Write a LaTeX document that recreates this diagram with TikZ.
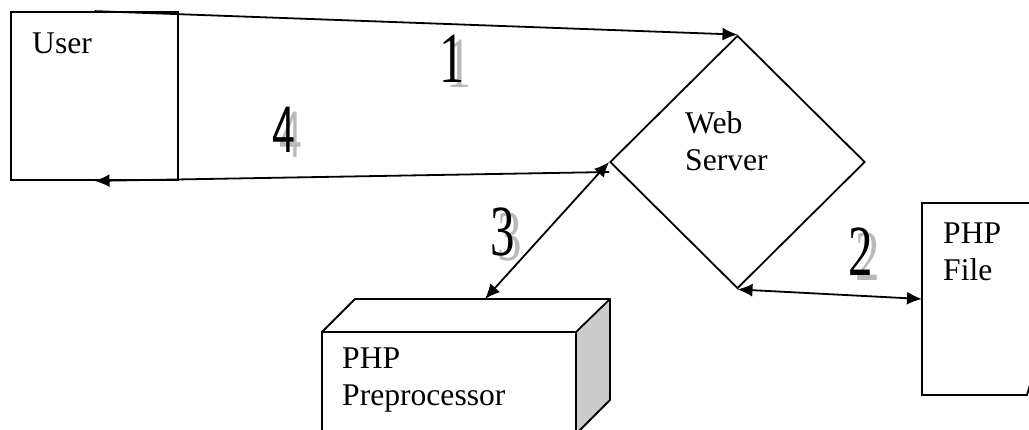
\documentclass[tikz,border=0pt]{standalone}
\usepackage{fontspec}
\setmainfont{Liberation Serif}
\newfontfamily\numsans{Liberation Sans}
\usetikzlibrary{shapes.geometric}
\usetikzlibrary{arrows.meta}
\tikzset{box/.style={draw,line width=1.8pt,inner sep=0pt},
         lbl/.style={font=\fontsize{31.6}{37}\selectfont,align=left,inner sep=0pt,anchor=base west},
         conn/.style={line width=1.8pt,-{Latex[length=15pt,width=13pt]}},
         biconn/.style={conn,{Latex[length=15pt,width=13pt]}-{Latex[length=15pt,width=13pt]}},
         num/.style={font=\fontsize{72}{72}\selectfont,inner sep=0pt},
         numshade/.style={num,text=gray!55}}

\begin{document}
\begin{tikzpicture}[x=1pt,y=-1pt]
            \useasboundingbox (0,0) rectangle (1029,429);
            \node [box,minimum width=167pt,minimum height=168pt] (user) at (94.5,96) {};
            \node [lbl] (usertxt) at (32,53) {User};
            \node [box,diamond,minimum width=255pt,minimum height=253pt] (server) at (737.5,162) {};
            \node [lbl] (servertxt) at (685,170) {Web\\Server};
            \draw [line width=1.8pt] (1040,203) -- (922,203) -- (922,395) -- (1027,395) -- (1032,378);
            \coordinate (phpfile) at (922,299);
            \node [lbl] (filetxt) at (943,280) {PHP\\File};
            \filldraw [fill=gray!40,line width=1.8pt,line join=round] (576,332) -- (610,299) -- (610,400) -- (576,434) -- cycle;
            \draw [line width=1.8pt,line join=round] (322,332) -- (355,299) -- (610,299);
            \draw [line width=1.8pt] (322,440) -- (322,332) -- (576,332);
            \coordinate (pretop) at (485,299);
            \node [lbl] (pretxt) at (342,405) {PHP\\Preprocessor};
            \draw [conn] (user.north) -- (server.north);
            \draw [biconn] (phpfile) -- (server.south);
            \draw [biconn] (pretop) -- (server.west);
            \draw [conn] ([yshift=-10pt]server.west) -- (user.south);
            \node [numshade] (oneb) at (459,64) {\scalebox{0.7}[1]{1}};
            \node [num] (one) at (452,59) {\scalebox{0.7}[1]{1}};
            \node [numshade] (twob) at (868,257) {\scalebox{0.68}[1]{2}};
            \node [num] (two) at (861,252) {\scalebox{0.68}[1]{2}};
            \node [numshade] (threeb) at (510,237) {\scalebox{0.68}[1]{3}};
            \node [num] (three) at (503,232) {\scalebox{0.68}[1]{3}};
            \node [numshade,font=\numsans\fontsize{66}{66}\selectfont] (fourb) at (291,135) {\scalebox{0.62}[1]{4}};
            \node [num,font=\numsans\fontsize{66}{66}\selectfont] (four) at (284,130) {\scalebox{0.62}[1]{4}};
        \end{tikzpicture}
\end{document}
